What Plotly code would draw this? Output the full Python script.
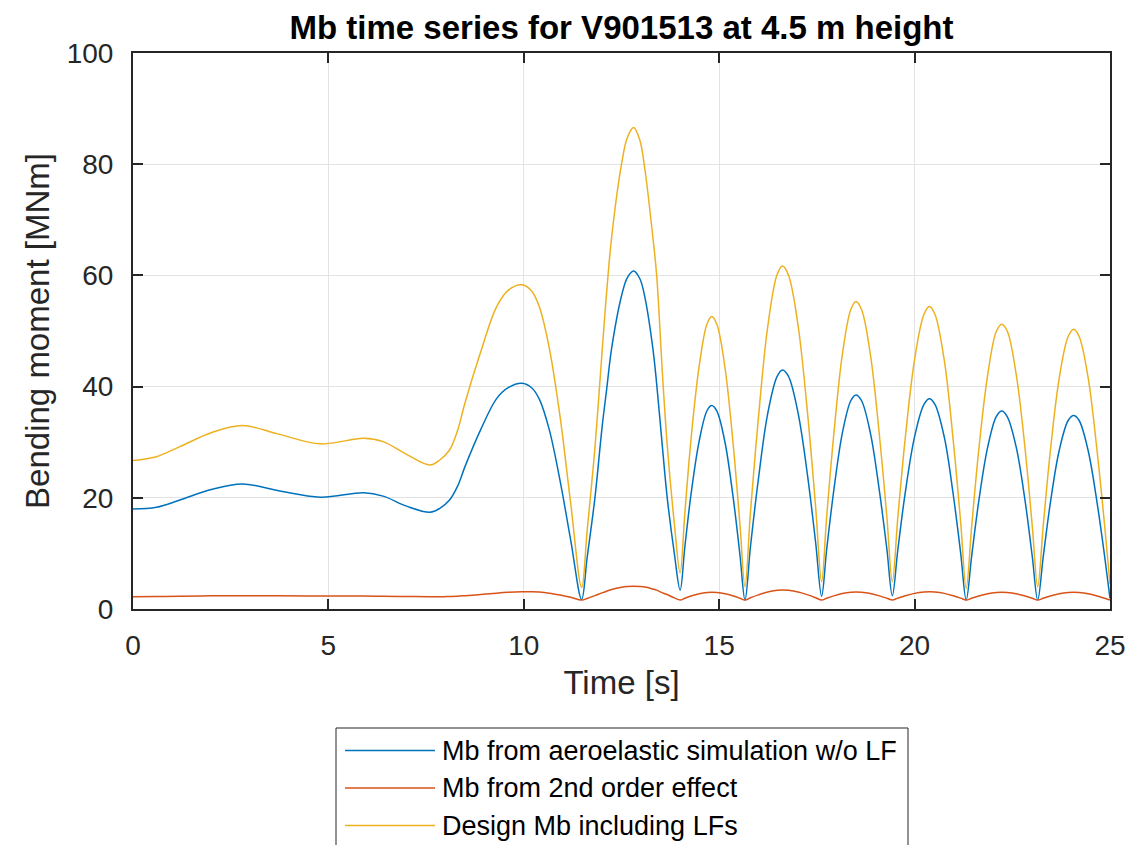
import plotly.graph_objects as go

# ---------------- data ----------------
time_s = [
    0, 0.6, 1.2, 2.0, 2.8, 3.7, 4.8, 5.9, 6.4, 7.0, 7.6, 7.85, 8.1, 8.3, 8.5, 8.9, 9.3, 9.6, 9.95, 10.2, 10.4, 10.65, 10.93, 11.2,
    11.48, 11.62, 11.82, 12.0, 12.12, 12.25, 12.5, 12.65, 12.81, 12.97, 13.1, 13.3, 13.4, 13.55, 13.67, 13.85, 14.0,
    14.12, 14.28, 14.49, 14.69, 14.81, 14.94, 15.15, 15.36, 15.53, 15.66,
    15.80, 16.00, 16.24, 16.48, 16.62, 16.77, 17.02, 17.27, 17.47, 17.62,
    17.75, 17.93, 18.15, 18.37, 18.5, 18.64, 18.87, 19.10, 19.29, 19.43,
    19.57, 19.76, 20.00, 20.24, 20.38, 20.52, 20.76, 20.99, 21.18, 21.32,
    21.46, 21.64, 21.87, 22.09, 22.23, 22.37, 22.60, 22.83, 23.01, 23.15,
    23.29, 23.47, 23.70, 23.93, 24.07, 24.21, 24.44, 24.67, 24.86, 25.0,
]

mb_aero = [
    18.0, 18.3, 19.6, 21.5, 22.5, 21.3, 20.1, 20.9, 20.3, 18.5, 17.4, 18.1, 19.6, 22.0, 25.7, 32.3, 37.8, 39.8, 40.6, 39.8, 37.7, 32.3, 23.0, 12.4,
    1.7, 9.2, 20.0, 32.5, 39.5, 47.0, 56.3, 59.6, 60.8, 59.4, 56.0, 47.0, 40.5, 28.9, 20.0, 10.1, 3.4,
    11.1, 20.7, 30.3, 35.7, 36.6, 35.6, 29.9, 19.9, 9.8, 1.6,
    11.2, 23.2, 35.1, 41.8, 43.0, 41.9, 35.2, 23.5, 11.8, 2.3,
    10.7, 21.2, 31.6, 37.5, 38.5, 37.5, 31.6, 21.2, 10.8, 2.4,
    10.6, 20.9, 31.0, 36.8, 37.8, 36.8, 30.9, 20.5, 10.0, 1.6,
    9.5, 19.3, 29.1, 34.6, 35.6, 34.6, 29.1, 19.3, 9.5, 1.6,
    9.3, 18.9, 28.5, 33.9, 34.8, 33.9, 28.5, 19.1, 9.6, 1.9,
]

mb_2nd_order = [
    2.2, 2.25, 2.3, 2.38, 2.4, 2.38, 2.32, 2.33, 2.3, 2.25, 2.2, 2.2, 2.25, 2.3, 2.4, 2.6, 2.85, 3.0, 3.1, 3.1, 3.05, 2.85, 2.5, 2.1,
    1.6, 1.9, 2.4, 2.9, 3.2, 3.5, 3.9, 4.05, 4.1, 4.05, 3.95, 3.6, 3.4, 2.9, 2.6, 2.0, 1.6,
    1.93, 2.33, 2.73, 2.96, 3.0, 2.96, 2.73, 2.33, 1.93, 1.6,
    2.02, 2.54, 3.06, 3.35, 3.4, 3.35, 3.06, 2.54, 2.02, 1.6,
    1.94, 2.36, 2.77, 3.01, 3.05, 3.01, 2.77, 2.36, 1.94, 1.6,
    1.95, 2.38, 2.81, 3.06, 3.1, 3.06, 2.81, 2.38, 1.95, 1.6,
    1.93, 2.33, 2.73, 2.96, 3.0, 2.96, 2.73, 2.33, 1.93, 1.6,
    1.93, 2.33, 2.73, 2.96, 3.0, 2.96, 2.73, 2.33, 1.93, 1.6,
]

mb_design = [
    26.7, 27.4, 29.2, 31.7, 33.0, 31.5, 29.7, 30.7, 30.1, 27.8, 25.9, 26.8, 28.6, 32.0, 37.2, 46.3, 54.3, 57.3, 58.3, 57.2, 54.3, 47.0, 34.5, 19.0,
    3.9, 14.0, 29.0, 46.0, 57.0, 67.0, 80.0, 84.8, 86.6, 84.3, 79.0, 67.0, 60.0, 42.0, 29.5, 15.5, 6.5,
    17.2, 30.6, 43.8, 51.3, 52.6, 51.2, 43.3, 29.4, 15.3, 4.0,
    17.4, 34.1, 50.7, 60.1, 61.7, 60.1, 50.9, 34.5, 18.1, 4.9,
    16.6, 31.2, 45.7, 53.9, 55.3, 53.9, 45.7, 31.2, 16.6, 4.9,
    16.4, 30.7, 44.9, 53.0, 54.4, 53.0, 44.7, 30.2, 15.5, 3.7,
    14.8, 28.5, 42.1, 49.9, 51.2, 50.0, 42.2, 28.6, 15.0, 4.0,
    14.8, 28.2, 41.5, 49.0, 50.3, 49.0, 41.6, 28.4, 15.2, 4.5,
]

series_names = [
    "Mb from aeroelastic simulation w/o LF",
    "Mb from 2nd order effect",
    "Design Mb including LFs",
]
series_values = [mb_aero, mb_2nd_order, mb_design]
series_colors = ["#0072BD", "#D95319", "#EDB120"]

x_ticks = [0, 5, 10, 15, 20, 25]
y_ticks = [0, 20, 40, 60, 80, 100]

title_text = "Mb time series for V901513 at 4.5 m height"
x_label = "Time [s]"
y_label = "Bending moment [MNm]"

# ---------------- figure ----------------
FONT = "Liberation Sans, Arial, Helvetica, sans-serif"
AX = "#262626"
OFF = 8                      # page body margin of the html page
W, H = 1133 - OFF, 845 - OFF
# plot box in page pixels: x 133..1110, y 53..609
ML, MT = 133 - OFF, 53 - OFF
MR = W - (1110 - OFF)
MB = H - (609 - OFF)
PW, PH = W - ML - MR, H - MT - MB

fig = go.Figure()
for name, vals, col in zip(series_names, series_values, series_colors):
    fig.add_trace(go.Scatter(
        x=time_s, y=vals, mode="lines", name=name,
        line=dict(color=col, width=1.5, shape="spline", smoothing=1.0),
        showlegend=False,
    ))

axis_common = dict(
    showline=True, linecolor=AX, linewidth=2, mirror="ticks",
    ticks="inside", ticklen=10, tickwidth=2, tickcolor=AX,
    showgrid=True, gridcolor="#e3e3e3", gridwidth=1,
    zeroline=False,
    tickfont=dict(family=FONT, size=28, color=AX),
)

fig.update_xaxes(
    range=[0, 25], tickvals=x_ticks, ticklabelstandoff=10,
    title=dict(text=x_label, font=dict(family=FONT, size=33, color=AX), standoff=11),
    **axis_common,
)
fig.update_yaxes(
    range=[0, 100], tickvals=y_ticks, ticklabelstandoff=12,
    title=dict(text=y_label, font=dict(family=FONT, size=33, color=AX), standoff=7),
    **axis_common,
)


# legend drawn as a box below the axes (page pixel positions -> paper units)
def px(xp):
    return (xp - OFF - ML) / PW


def py(yp):
    return (H - MB - (yp - OFF)) / PH


shapes = [dict(type="rect", xref="paper", yref="paper",
               x0=px(336), x1=px(908), y0=py(880), y1=py(728),
               line=dict(color=AX, width=1), fillcolor="white", layer="above")]
annotations = []
entry_y = [750.5, 788, 825.5]
for name, col, yy in zip(series_names, series_colors, entry_y):
    shapes.append(dict(type="line", xref="paper", yref="paper",
                       x0=px(345), x1=px(435), y0=py(yy), y1=py(yy),
                       line=dict(color=col, width=1.5)))
    annotations.append(dict(xref="paper", yref="paper", x=px(440), y=py(yy),
                            xanchor="left", yanchor="middle", showarrow=False,
                            text=name, font=dict(family=FONT, size=27, color="black")))

fig.update_layout(
    width=W, height=H,
    margin=dict(l=ML, r=MR, t=MT, b=MB, autoexpand=False),
    paper_bgcolor="white", plot_bgcolor="white",
    title=dict(text="<b>" + title_text + "</b>", x=px(621.5), xref="paper",
               xanchor="center", y=1 - (27 - OFF) / H, yref="container", yanchor="middle",
               font=dict(family=FONT, size=33, color="black")),
    shapes=shapes, annotations=annotations,
    showlegend=False,
)

fig.write_html("out.html")
